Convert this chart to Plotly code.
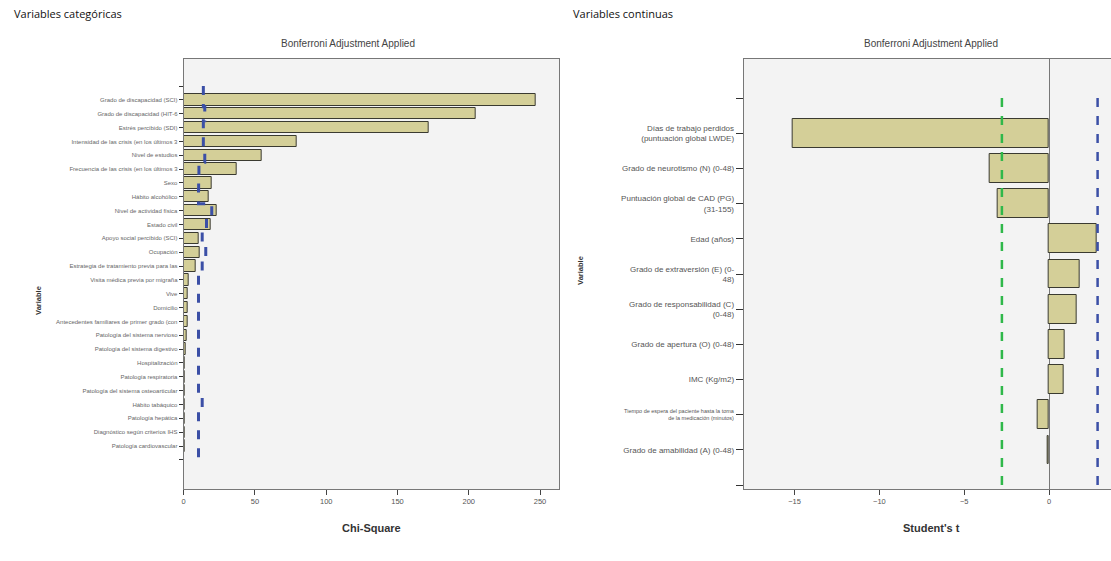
import plotly.graph_objects as go

W, H = 1111, 561

# ---------------- data: categorical variables (Chi-Square) ----------------
cat_labels = [
    "Grado de discapacidad (SCI)",
    "Grado de discapacidad (HIT-6",
    "Estrés percibido (SDI)",
    "Intensidad de las crisis (en los últimos 3",
    "Nivel de estudios",
    "Frecuencia de las crisis (en los últimos 3",
    "Sexo",
    "Hábito alcohólico",
    "Nivel de actividad física",
    "Estado civil",
    "Apoyo social percibido (SCI)",
    "Ocupación",
    "Estrategia de tratamiento previa para las",
    "Visita médica previa por migraña",
    "Vive",
    "Domicilio",
    "Antecedentes familiares de primer grado (con",
    "Patología del sistema nervioso",
    "Patología del sistema digestivo",
    "Hospitalización",
    "Patología respiratoria",
    "Patología del sistema osteoarticular",
    "Hábito tabáquico",
    "Patología hepática",
    "Diagnóstico según criterios IHS",
    "Patología cardiovascular",
]
chi_values = [247, 205, 172, 79, 55, 37, 19.5, 17.5, 23, 19, 10.5, 11.5, 8.4,
              3.5, 3, 3, 3, 2, 1.5, 1, 0.8, 0.8, 1, 0.6, 0.6, 0.5]
chi_critical = [13.8, 14.8, 13.8, 13.8, 14.8, 10.7, 10.5, 10.4, 19.7, 16, 13, 15.5, 13,
                10.4, 10.4, 10.4, 10.4, 10.4, 10.4, 10.4, 10.4, 10.4, 13, 10.4, 10.4, 10.4]
chi_ticks = [0, 50, 100, 150, 200, 250]

# ---------------- data: continuous variables (Student's t) ----------------
cont_labels = [
    "Días de trabajo perdidos<br>(puntuación global LWDE)",
    "Grado de neurotismo (N) (0-48)",
    "Puntuación global de CAD (PG)<br>(31-155)",
    "Edad (años)",
    "Grado de extraversión (E) (0-<br>48)",
    "Grado de responsabilidad (C)<br>(0-48)",
    "Grado de apertura (O) (0-48)",
    "IMC (Kg/m2)",
    "Tiempo de espera del paciente hasta la toma<br>de la medicación (minutos)",
    "Grado de amabilidad (A) (0-48)",
]
small_label_index = 8  # this label is printed in a smaller font in the original
t_values = [-15.1, -3.5, -3.05, 2.8, 1.8, 1.63, 0.9, 0.85, -0.7, -0.08]
t_crit_low = -2.78
t_crit_high = 2.86
t_ticks = [-15, -10, -5, 0]

# ---------------- helpers ----------------
def px(x):
    return x / W

def py(y):
    return 1 - y / H

BAR_FILL = "#d4cf98"
BAR_LINE = "#3a3a30"
BLUE = "#3b4fa6"
GREEN = "#2fb84a"
FONT = "Liberation Sans, Arial, sans-serif"

fig = go.Figure()

# left chart
n_cat = len(cat_labels)
cat_pos = list(range(1, n_cat + 1))
fig.add_trace(go.Bar(
    x=chi_values, y=cat_pos, orientation="h", width=0.82,
    marker=dict(color=BAR_FILL, line=dict(color=BAR_LINE, width=1)),
    xaxis="x", yaxis="y", showlegend=False, hoverinfo="x+y",
))
crit_y = [0] + cat_pos + [n_cat + 1]
crit_x = [chi_critical[0]] + chi_critical + [chi_critical[-1]]
fig.add_trace(go.Scatter(
    x=crit_x, y=crit_y, mode="lines", line=dict(color=BLUE, width=3, dash="dash", shape="vhv"),
    xaxis="x", yaxis="y", showlegend=False,
))

# right chart
n_cont = len(cont_labels)
cont_pos = list(range(1, n_cont + 1))
fig.add_trace(go.Bar(
    x=t_values, y=cont_pos, orientation="h", width=0.82,
    marker=dict(color=BAR_FILL, line=dict(color=BAR_LINE, width=1)),
    xaxis="x2", yaxis="y2", showlegend=False,
))
for xv, col in [(t_crit_low, GREEN), (t_crit_high, BLUE)]:
    fig.add_trace(go.Scatter(
        x=[xv, xv], y=[0, n_cont + 1], mode="lines",
        line=dict(color=col, width=2.5, dash="dash"),
        xaxis="x2", yaxis="y2", showlegend=False,
    ))

ydom = [py(489), py(59)]
tickfont = dict(family=FONT, size=7.5, color="#555")

cont_ticktext = [""] + [("" if i == small_label_index else lab) for i, lab in enumerate(cont_labels)] + [""]

fig.update_layout(
    width=W, height=H,
    margin=dict(l=0, r=0, t=0, b=0),
    paper_bgcolor="white",
    plot_bgcolor="#f3f3f3",
    bargap=0,
    xaxis=dict(
        domain=[px(182), px(558)], range=[0, 263.3],
        tickvals=chi_ticks, ticks="outside", ticklen=5, tickcolor="#444",
        showgrid=False, zeroline=False, showline=True, linecolor="#777", linewidth=1, mirror=True,
        tickfont=tickfont, anchor="y",
    ),
    yaxis=dict(
        domain=ydom, range=[29.1, -1.95],
        tickvals=list(range(0, n_cat + 2)), ticktext=[""] + cat_labels + [""],
        ticks="outside", ticklen=4, tickcolor="#333",
        showgrid=False, zeroline=False, showline=True, linecolor="#777", linewidth=1, mirror=True,
        tickfont=dict(family=FONT, size=6, color="#666"), anchor="x",
    ),
    xaxis2=dict(
        domain=[px(743), 1.0], range=[-18.0, 3.65],
        tickvals=t_ticks, ticks="outside", ticklen=5, tickcolor="#444",
        showgrid=False, zeroline=True, zerolinecolor="#777", zerolinewidth=1,
        showline=True, linecolor="#777", linewidth=1, mirror=True,
        tickfont=tickfont, anchor="y2",
    ),
    yaxis2=dict(
        domain=ydom, range=[n_cont + 1.11, -1.11],
        tickvals=list(range(0, n_cont + 2)), ticktext=cont_ticktext,
        ticks="outside", ticklen=7, tickcolor="#333",
        showgrid=False, zeroline=False, showline=True, linecolor="#777", linewidth=1, mirror=False,
        tickfont=dict(family=FONT, size=8, color="#555"), anchor="x2",
    ),
)

ann = []
def paper_ann(**kw):
    kw.setdefault("xref", "paper")
    kw.setdefault("yref", "paper")
    kw.setdefault("showarrow", False)
    ann.append(kw)

paper_ann(x=px(10), y=py(14), text="Variables categóricas", xanchor="left", yanchor="middle",
          font=dict(family="Open Sans", size=11, color="#111"))
paper_ann(x=px(570), y=py(14), text="Variables continuas", xanchor="left", yanchor="middle",
          font=dict(family="Open Sans", size=11, color="#111"))
paper_ann(x=px(347), y=py(43), text="Bonferroni Adjustment Applied", xanchor="center", yanchor="middle",
          font=dict(family=FONT, size=10, color="#444"))
paper_ann(x=px(931), y=py(43), text="Bonferroni Adjustment Applied", xanchor="center", yanchor="middle",
          font=dict(family=FONT, size=10, color="#444"))
paper_ann(x=px(370), y=py(528), text="<b>Chi-Square</b>", xanchor="center", yanchor="middle",
          font=dict(family=FONT, size=11, color="#333"))
paper_ann(x=px(931), y=py(528), text="<b>Student's t</b>", xanchor="center", yanchor="middle",
          font=dict(family=FONT, size=11, color="#333"))
paper_ann(x=px(36), y=py(300), text="<b>Variable</b>", textangle=-90, xanchor="center", yanchor="middle",
          font=dict(family=FONT, size=7.5, color="#333"))
paper_ann(x=px(580), y=py(270), text="<b>Variable</b>", textangle=-90, xanchor="center", yanchor="middle",
          font=dict(family=FONT, size=7.5, color="#333"))
# small two-line label on the right chart
paper_ann(x=px(736), y=small_label_index + 1, yref="y2", text=cont_labels[small_label_index],
          xanchor="right", yanchor="middle", align="right",
          font=dict(family=FONT, size=5.5, color="#555"))

fig.update_layout(annotations=ann)

fig.write_html(
    "out.html",
    config={"displayModeBar": False},
    post_script="document.body.style.margin='0';document.body.style.overflow='hidden';",
)
